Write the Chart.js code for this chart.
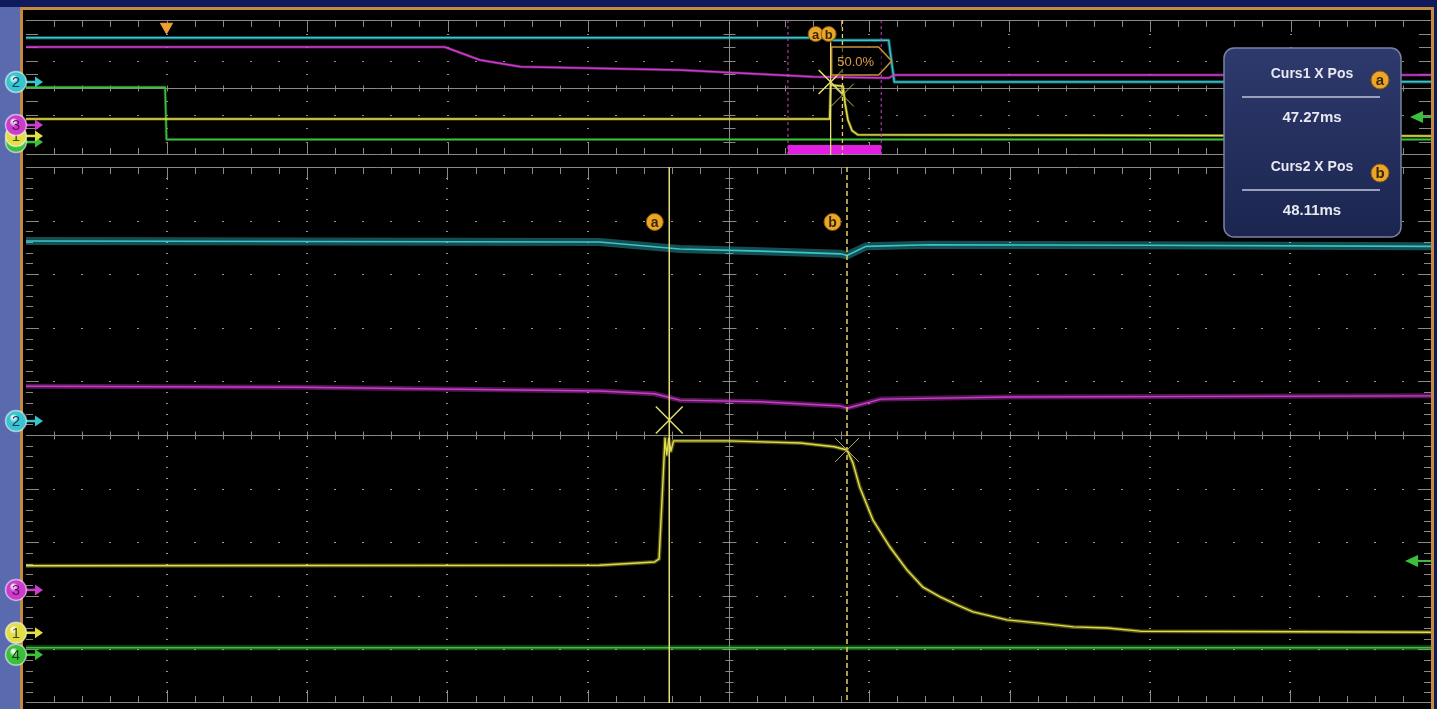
<!DOCTYPE html>
<html><head><meta charset="utf-8">
<script src="https://cdn.jsdelivr.net/npm/chart.js@4.4.1/dist/chart.umd.min.js"></script>
<style>
html,body{margin:0;padding:0;background:#0e1a5c;width:1437px;height:709px;overflow:hidden;}
#leftStrip{position:absolute;left:0;top:7px;width:20px;height:702px;background:#5a6aae;}
#frame{position:absolute;left:20px;top:7px;width:1414px;height:712px;box-sizing:border-box;border:3px solid #c48a40;border-bottom:none;background:#000;}
canvas{position:absolute;left:0;top:0;}
</style></head><body>
<div id="leftStrip"></div><div id="frame"></div>
<canvas id="ov" width="1437" height="709" style="width:1437px;height:709px"></canvas>
<canvas id="mn" width="1437" height="709" style="width:1437px;height:709px"></canvas>
<script>
// ---------- data (time in ms, vertical in divisions) ----------
const mainRange = [44.23, 50.87];
const overviewRange = [-10, 90];
const vRange = [-5, 5];
const cursorTimes = [47.27, 48.11];
const cursorNames = ['a', 'b'];
const triggerTime = 0;
const measureLabel = '50.0%';
const channelNames = ['1', '2', '3', '4'];
const mainOffsets = [-3.69, 0.26, -2.89, -4.10];
const ovOffsets = [-3.59, 0.41, -2.78, -4.04];
const trigLevelMain = -2.35;
const trigLevelOv = -2.19;

const mainCh1 = [[44.23,-2.44],[46.94,-2.43],[47.20,-2.37],[47.222,-2.31],[47.236,-1.20],[47.25,-0.06],[47.258,-0.37],[47.268,-0.07],[47.278,-0.30],[47.29,-0.11],[47.55,-0.11],[47.89,-0.15],[48.05,-0.22],[48.11,-0.28],[48.138,-0.52],[48.17,-0.97],[48.233,-1.59],[48.313,-2.09],[48.394,-2.52],[48.469,-2.84],[48.55,-3.02],[48.63,-3.17],[48.706,-3.30],[48.866,-3.45],[49.02,-3.51],[49.18,-3.58],[49.34,-3.60],[49.495,-3.66],[50.25,-3.67],[50.87,-3.68]];
const mainCh2 = [[44.23,3.62],[46.94,3.60],[47.17,3.52],[47.32,3.47],[47.70,3.43],[48.08,3.38],[48.11,3.35],[48.20,3.52],[48.50,3.55],[49.50,3.54],[50.87,3.52]];
const mainCh3 = [[44.23,0.91],[45.52,0.89],[46.94,0.82],[47.20,0.77],[47.32,0.65],[47.70,0.62],[48.08,0.54],[48.11,0.50],[48.27,0.67],[48.87,0.71],[50.87,0.73]];
const mainCh4 = [[44.23,-3.97],[50.87,-3.97]];
const mainCrossings = [[47.27,0.28],[48.11,-0.28]];

const ovCh1 = [[-10,-2.33],[47.2,-2.33],[47.27,0.19],[48.15,0.10],[48.3,-1.2],[48.5,-2.4],[48.8,-3.2],[49.2,-3.5],[90,-3.6]];
const ovCh2 = [[-10,3.68],[47.2,3.68],[47.35,3.50],[51.4,3.50],[51.8,0.41],[90,0.43]];
const ovCh3 = [[-10,3.0],[19.8,3.0],[22.3,2.04],[25.2,1.54],[36.5,1.30],[46.0,0.80],[51.4,0.70],[51.8,0.93],[90,0.93]];
const ovCh4 = [[-10,0.02],[-0.1,0.02],[0,-3.85],[90,-3.85]];
const ovCrossings = [[47.27,0.41],[48.11,-0.56]];

// ---------- styles ----------
const COL = {'1':'#e2de46','2':'#38c5cd','3':'#cc3ccc','4':'#3cc03c'};
const TXT = {'1':'#4a4a10','2':'#123a6a','3':'#5a0e5a','4':'#0e4a0e'};
const FONT = '"Liberation Sans", Arial, sans-serif';

function rgba(hex,a){const n=parseInt(hex.slice(1),16);return `rgba(${n>>16&255},${n>>8&255},${n&255},${a})`;}
function toXY(p){return p.map(q=>({x:q[0],y:q[1]}));}
function traceSets(pts,color,band,core,alpha,order){
  return [
    {data:toXY(pts),borderColor:rgba(color,alpha),borderWidth:band,pointRadius:0,tension:0,fill:false,order:order+1,borderJoinStyle:'round'},
    {data:toXY(pts),borderColor:color,borderWidth:core,pointRadius:0,tension:0,fill:false,order:order,borderJoinStyle:'round'}
  ];
}
function vline(t,y0,y1,color,width,dash,order){
  return {data:[{x:t,y:y0},{x:t,y:y1}],borderColor:color,borderWidth:width,borderDash:dash||[],pointRadius:0,fill:false,order:order};
}

const graticulePlugin = {
  id:'graticule',
  beforeDatasetsDraw(chart,args,o){
    const {ctx,chartArea:a} = chart;
    const xs = chart.scales.x, ys = chart.scales.y;
    const xStep = (xs.max-xs.min)/10;
    const px = i => xs.getPixelForValue(xs.min + i*xStep/5);
    const py = j => ys.getPixelForValue(vRange[1] - j/o.yMinor);
    const r = v => Math.round(v)+0.5;
    const cx = r(px(25)), cy = r(py(5*o.yMinor));
    ctx.save();
    ctx.strokeStyle = o.line; ctx.lineWidth = 1;
    ctx.beginPath();
    const L=(x1,y1,x2,y2)=>{ctx.moveTo(x1,y1);ctx.lineTo(x2,y2);};
    L(a.left,r(a.top),a.right,r(a.top)); L(a.left,r(a.bottom)-1,a.right,r(a.bottom)-1);
    L(cx,a.top,cx,a.bottom); L(a.left,cy,a.right,cy);
    for(let i=1;i<50;i++){
      const x=r(px(i)); const maj=i%5===0; const t=maj?o.tMaj:o.tMin;
      L(x,a.top,x,a.top+t); L(x,a.bottom-t,x,a.bottom); L(x,cy-o.cMin,x,cy+o.cMin);
    }
    const nY=10*o.yMinor;
    for(let j=1;j<nY;j++){
      const y=r(py(j)); const maj=j%o.yMinor===0; const t=maj?o.tMaj:o.tMin;
      L(a.left,y,a.left+t,y); L(a.right-t,y,a.right,y);
      const c=maj?o.cMaj:o.cMin; L(cx-c,y,cx+c,y);
    }
    ctx.stroke();
    ctx.fillStyle=o.dot;
    for(const i of [1,2,3,4,6,7,8,9]){
      const x=Math.round(px(i*5));
      for(let j=1;j<nY;j++){ctx.fillRect(x-1,Math.round(py(j)),2,1);}
    }
    for(const v of o.rows){
      const y=Math.round(ys.getPixelForValue(v));
      for(let i=1;i<50;i++){ctx.fillRect(Math.round(px(i))-1,y,2,1);}
    }
    ctx.restore();
  }
};

function chMarker(ctx,y,name){
  const color=COL[name], x=16;
  ctx.save();
  ctx.strokeStyle=color; ctx.fillStyle=color; ctx.lineWidth=2.5;
  ctx.beginPath(); ctx.moveTo(24,y); ctx.lineTo(36,y); ctx.stroke();
  ctx.beginPath(); ctx.moveTo(35,y-5.5); ctx.lineTo(43,y); ctx.lineTo(35,y+5.5); ctx.closePath(); ctx.fill();
  const g=ctx.createRadialGradient(x-3,y-4,1,x,y,11);
  g.addColorStop(0,'#ffffff'); g.addColorStop(0.35,color); g.addColorStop(1,color);
  ctx.beginPath(); ctx.arc(x,y,10.5,0,Math.PI*2); ctx.fillStyle=g; ctx.fill();
  ctx.lineWidth=1.5; ctx.strokeStyle='rgba(255,255,255,0.55)'; ctx.stroke();
  ctx.fillStyle=TXT[name]; ctx.font='15px '+FONT; ctx.textAlign='center'; ctx.textBaseline='middle';
  ctx.fillText(name,x,y+1);
  ctx.restore();
}
function trigArrow(ctx,y,tip,len){
  ctx.save(); ctx.fillStyle=COL['4']; ctx.strokeStyle=COL['4']; ctx.lineWidth=2;
  ctx.beginPath(); ctx.moveTo(tip,y); ctx.lineTo(tip+13,y-6); ctx.lineTo(tip+13,y+6); ctx.closePath(); ctx.fill();
  ctx.beginPath(); ctx.moveTo(tip+12,y); ctx.lineTo(tip+len,y); ctx.stroke(); ctx.restore();
}
function badge(ctx,x,y,r,letter,fs){
  ctx.save();
  ctx.beginPath(); ctx.arc(x,y,r,0,Math.PI*2); ctx.fillStyle='#e9a628'; ctx.fill();
  ctx.lineWidth=1; ctx.strokeStyle='#8a5a10'; ctx.stroke();
  ctx.fillStyle='#3b2608'; ctx.font='bold '+fs+'px '+FONT; ctx.textAlign='center'; ctx.textBaseline='middle';
  ctx.fillText(letter,x,y+1); ctx.restore();
}
function drawMarkers(chart,offsets,drawOrder){
  const ys=chart.scales.y;
  for(const idx of drawOrder){ chMarker(chart.ctx, ys.getPixelForValue(offsets[idx]), channelNames[idx]); }
}

const ovOverlay = {
  id:'ovOverlay',
  afterDraw(chart){
    const {ctx}=chart; const xs=chart.scales.x, ys=chart.scales.y;
    const xa=xs.getPixelForValue(cursorTimes[0]);
    badge(ctx,xa-15,34,7.5,cursorNames[0],13);
    badge(ctx,xa-2,34,7.5,cursorNames[1],13);
    ctx.save();
    const x0=xa+1, y0=47, y1=75, tip=xa+61;
    ctx.beginPath(); ctx.moveTo(x0,y0); ctx.lineTo(tip-13,y0); ctx.lineTo(tip,(y0+y1)/2); ctx.lineTo(tip-13,y1); ctx.lineTo(x0,y1); ctx.closePath();
    ctx.fillStyle='rgba(0,0,0,0.55)'; ctx.fill();
    ctx.strokeStyle='#c8923c'; ctx.lineWidth=1.5; ctx.stroke();
    ctx.fillStyle='#d89a48'; ctx.font='13px '+FONT; ctx.textAlign='center'; ctx.textBaseline='middle';
    ctx.fillText(measureLabel,x0+24,62);
    ctx.restore();
    drawMarkers(chart,ovOffsets,[3,0,2,1]);
    trigArrow(ctx,ys.getPixelForValue(trigLevelOv),1410,21);
  }
};

const mainOverlay = {
  id:'mainOverlay',
  afterDraw(chart){
    const {ctx}=chart; const xs=chart.scales.x, ys=chart.scales.y;
    cursorTimes.forEach((t,i)=>badge(ctx,xs.getPixelForValue(t)-14.5,222,8.5,cursorNames[i],14));
    drawMarkers(chart,mainOffsets,[1,2,0,3]);
    trigArrow(ctx,ys.getPixelForValue(trigLevelMain),1405,26);
    const bx=1224, by=48, bw=177, bh=189, br=10;
    ctx.save();
    ctx.beginPath(); ctx.roundRect(bx,by,bw,bh,br);
    const g=ctx.createLinearGradient(0,by,0,by+bh); g.addColorStop(0,'#2e3a6c'); g.addColorStop(1,'#1b2550');
    ctx.fillStyle=g; ctx.fill();
    ctx.lineWidth=1.5; ctx.strokeStyle='#7a82a4'; ctx.stroke();
    ctx.textAlign='center'; ctx.textBaseline='middle';
    cursorTimes.forEach((t,i)=>{
      const y=by+26+i*93;
      ctx.font='bold 14px '+FONT; ctx.fillStyle='#e8e8f0';
      ctx.fillText('Curs'+(i+1)+' X Pos',1312,y);
      ctx.strokeStyle='#9aa0bc'; ctx.lineWidth=2;
      ctx.beginPath(); ctx.moveTo(1242,y+23); ctx.lineTo(1380,y+23); ctx.stroke();
      ctx.font='bold 15px '+FONT; ctx.fillStyle='#e8e8f0';
      ctx.fillText(t.toFixed(2)+'ms',1312,y+44);
      badge(ctx,1380,y+6,9,cursorNames[i],15);
    });
    ctx.restore();
  }
};

function baseOptions(range,padding,grat){
  return {
    responsive:false, animation:false, devicePixelRatio:1, events:[],
    layout:{padding, autoPadding:false},
    scales:{ x:{type:'linear',min:range[0],max:range[1],display:false},
             y:{type:'linear',min:vRange[0],max:vRange[1],display:false} },
    plugins:{ legend:{display:false}, tooltip:{enabled:false}, graticule:grat }
  };
}

// ---------- overview chart ----------
new Chart(document.getElementById('ov'), {
  type:'line',
  data:{datasets:[
    {data:toXY(ovCrossings),showLine:false,pointStyle:'crossRot',pointRadius:[17,16],pointBorderColor:['#e8e46a','#bdbb5a'],pointBorderWidth:[1.5,1],order:0},
    vline(cursorTimes[0],3.35,vRange[0],'#e6de74',1.3,[],1),
    vline(cursorTimes[1],vRange[1],vRange[0],'#e0d060',1.3,[4,3],1),
    vline(mainRange[0],vRange[1],vRange[0],'#c844c8',1,[3,3],2),
    vline(mainRange[1],vRange[1],vRange[0],'#c844c8',1,[3,3],2),
    {data:[{x:mainRange[0],y:-4.59},{x:mainRange[1],y:-4.59}],borderColor:'#e21ee2',borderWidth:9,borderCapStyle:'butt',pointRadius:0,order:3},
    {data:[{x:triggerTime,y:4.5}],showLine:false,pointStyle:'triangle',pointRotation:180,pointRadius:7,pointBackgroundColor:'#f0a030',pointBorderColor:'#f0a030',order:0},
    ...traceSets(ovCh1,COL['1'],3,1.5,0.4,10),
    ...traceSets(ovCh4,COL['4'],3,1.5,0.4,12),
    ...traceSets(ovCh3,COL['3'],3,1.5,0.4,14),
    ...traceSets(ovCh2,COL['2'],3.5,1.5,0.4,16)
  ]},
  options:baseOptions(overviewRange,{left:26,top:20,right:6,bottom:554},
    {line:'#8c8884',dot:'#8e8e8e',tMin:7,tMaj:12,cMin:3,cMaj:6,yMinor:1,rows:[-2,2]}),
  plugins:[graticulePlugin,ovOverlay]
});

// ---------- main (zoomed) chart ----------
new Chart(document.getElementById('mn'), {
  type:'line',
  data:{datasets:[
    {data:toXY(mainCrossings),showLine:false,pointStyle:'crossRot',pointRadius:[19,17],pointBorderColor:['#e0dc70','#a8a858'],pointBorderWidth:[1.5,1],order:0},
    vline(cursorTimes[0],vRange[1],vRange[0],'#e6de7a',1.5,[],1),
    vline(cursorTimes[1],vRange[1],vRange[0],'#e0d060',1.5,[5,3],1),
    ...traceSets(mainCh1,COL['1'],4,1.4,0.35,10),
    ...traceSets(mainCh4,COL['4'],5,1.4,0.4,12),
    ...traceSets(mainCh3,COL['3'],5,1.4,0.4,14),
    ...traceSets(mainCh2,COL['2'],8,1.6,0.4,16)
  ]},
  options:baseOptions(mainRange,{left:26,top:167,right:6,bottom:6},
    {line:'#8c8884',dot:'#9a9a9a',tMin:7,tMaj:13,cMin:4,cMaj:7,yMinor:5,rows:[-4,-3,-2,-1,1,2,3,4]}),
  plugins:[graticulePlugin,mainOverlay]
});
</script></body></html>
